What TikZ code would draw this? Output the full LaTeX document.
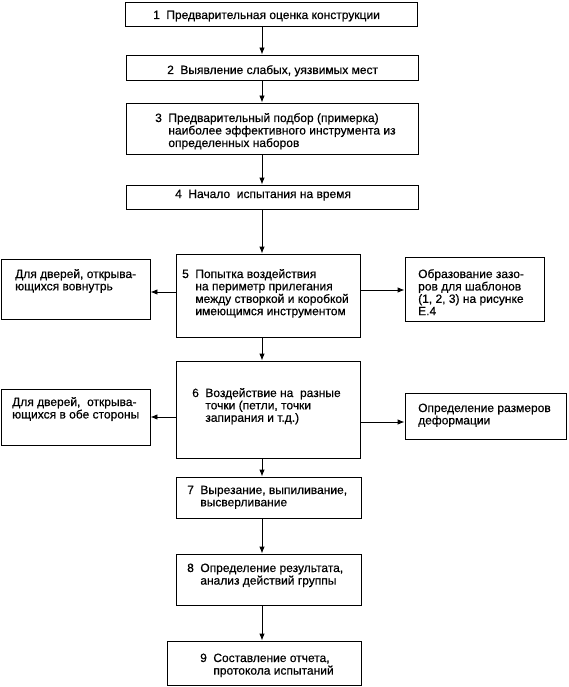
\documentclass[tikz,border=0pt]{standalone}
\usepackage{fontspec}
\setmainfont{Liberation Sans}[FakeBold=0.5]
\usetikzlibrary{arrows.meta}
\newcommand{\lns}[1]{\begin{tabular}[t]{@{}l@{}}#1\end{tabular}}
\newcommand{\numlns}[2]{#1\hspace{6.5pt}\lns{#2}}
\begin{document}
\begin{tikzpicture}[x=1pt,y=-1pt,
  box/.style={draw, line width=0.9pt, inner sep=0pt, minimum width=#1},
  txt/.style={anchor=base west, inner sep=0pt, font=\fontsize{12}{12.3}\selectfont},
  arr/.style={line width=0.9pt, -{Latex[length=7pt,width=5.5pt]}}]
\useasboundingbox (0,0) rectangle (568,687);
% boxes
\node[box=292pt, minimum height=24pt] (b1) at (271,14) {};
\node[box=292pt, minimum height=25pt] (b2) at (272,67.5) {};
\node[box=292pt, minimum height=51pt] (b3) at (272,128.5) {};
\node[box=292pt, minimum height=24pt] (b4) at (272,197) {};
\node[box=184pt, minimum height=83pt] (b5) at (268,295.5) {};
\node[box=149pt, minimum height=60pt] (l5) at (75.5,289) {};
\node[box=139pt, minimum height=64pt] (r5) at (474.5,289) {};
\node[box=184pt, minimum height=97pt] (b6) at (268,409.5) {};
\node[box=149pt, minimum height=56pt] (l6) at (75.5,417) {};
\node[box=161pt, minimum height=46pt] (r6) at (485.5,416) {};
\node[box=185pt, minimum height=41pt] (b7) at (268.5,497.5) {};
\node[box=185pt, minimum height=51pt] (b8) at (268.5,579.5) {};
\node[box=194pt, minimum height=44pt] (b9) at (264,663) {};
% texts
\node[txt] (t1) at (153,19) {1\hspace{6.5pt}Предварительная оценка конструкции};
\node[txt] (t2) at (167,74) {2\hspace{6.5pt}Выявление слабых, уязвимых мест};
\node[txt] (t3) at (155,122) {\numlns{3}{Предварительный подбор (примерка)\\наиболее эффективного инструмента из\\определенных наборов}};
\node[txt] (t4) at (175,198) {4\hspace{6.5pt}Начало\ \ испытания на время};
\node[txt] (t5) at (182,278) {\numlns{5}{Попытка воздействия\\на периметр прилегания\\между створкой и коробкой\\имеющимся инструментом}};
\node[txt] (tl5) at (15,278) {\lns{Для дверей, открыва-\\ющихся вовнутрь}};
\node[txt] (tr5) at (418,278) {\lns{Образование зазо-\\ров для шаблонов\\(1, 2, 3) на рисунке\\Е.4}};
\node[txt] (t6) at (192,397) {\numlns{6}{Воздействие на\ \ разные\\точки (петли, точки\\запирания и т.д.)}};
\node[txt] (tl6) at (12,406) {\lns{Для дверей,\ \ открыва-\\ющихся в обе стороны}};
\node[txt] (tr6) at (418,412) {\lns{Определение размеров\\деформации}};
\node[txt] (t7) at (187,494) {\numlns{7}{Вырезание, выпиливание,\\высверливание}};
\node[txt] (t8) at (187,572) {\numlns{8}{Определение результата,\\анализ действий группы}};
\node[txt] (t9) at (200,662) {\numlns{9}{Составление отчета,\\протокола испытаний}};
% arrows
\coordinate (ax) at (262,0);
\draw[arr] (b1.south -| ax) -- (b2.north -| ax);
\draw[arr] (b2.south -| ax) -- (b3.north -| ax);
\draw[arr] (b3.south -| ax) -- (b4.north -| ax);
\draw[arr] (b4.south -| ax) -- (b5.north -| ax);
\draw[arr] (b5.south -| ax) -- (b6.north -| ax);
\draw[arr] (b6.south -| ax) -- (b7.north -| ax);
\draw[arr] (b7.south -| ax) -- (b8.north -| ax);
\draw[arr] (b8.south -| ax) -- (b9.north -| ax);
\draw[arr] ([yshift=-3pt]b5.west |- l5.east) -- ([yshift=-3pt]l5.east);
\draw[arr] ([yshift=-1pt]b5.east |- r5.west) -- ([yshift=-1pt]r5.west);
\draw[arr] (b6.west |- l6.east) -- (l6.east);
\draw[arr] ([yshift=-6pt]b6.east |- r6.west) -- ([yshift=-6pt]r6.west);
\end{tikzpicture}
\end{document}
